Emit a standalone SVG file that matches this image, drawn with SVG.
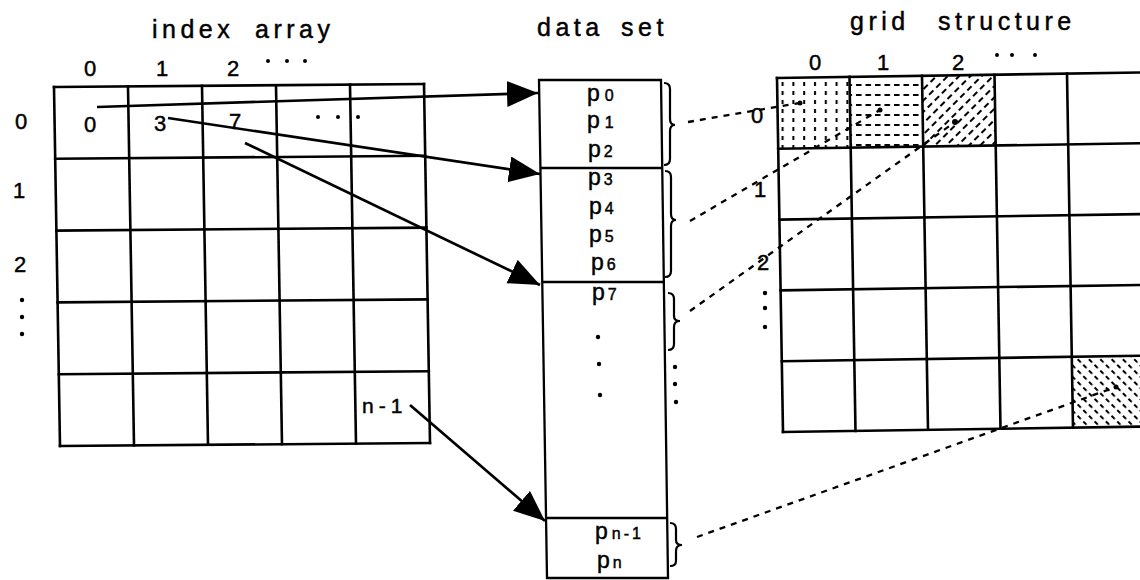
<svg xmlns="http://www.w3.org/2000/svg" width="1140" height="580" viewBox="0 0 1140 580">
<style>
text{font-family:"Liberation Sans",Arial,sans-serif;fill:#000;stroke:#000;stroke-width:0.45px}
.title{font-size:25px;letter-spacing:4.5px}
.num{font-size:22px}
.p{font-size:23px}
.sub{font-size:16px}
.g{stroke:#000;stroke-width:2.6;fill:none;stroke-linecap:square}
.box{stroke:#000;stroke-width:2.3;fill:none}
.brace{stroke:#000;stroke-width:2.2;fill:none}
.arrow{stroke:#000;stroke-width:2.7;fill:none;marker-end:url(#ah)}
.dash{stroke:#000;stroke-width:2.3;fill:none;stroke-dasharray:6 6}
.hd{stroke:#000;stroke-width:2}
</style>
<defs>
<marker id="ah" markerUnits="userSpaceOnUse" markerWidth="34" markerHeight="28" refX="31" refY="13" orient="auto">
<path d="M0,0 L31,13 L0,26 Z" fill="#000"/>
</marker>
<pattern id="pv" patternUnits="userSpaceOnUse" width="10.8" height="9">
<line class="hd" x1="5" y1="1" x2="5" y2="5"/>
</pattern>
<pattern id="ph" patternUnits="userSpaceOnUse" width="9.5" height="10">
<line class="hd" x1="1" y1="5" x2="6.5" y2="5"/>
</pattern>
<pattern id="pf" patternUnits="userSpaceOnUse" width="10" height="8" patternTransform="rotate(-45)">
<line class="hd" x1="0" y1="4" x2="6" y2="4"/>
</pattern>
<pattern id="pb" patternUnits="userSpaceOnUse" width="8" height="8" patternTransform="rotate(45)">
<line class="hd" x1="0" y1="4" x2="4.5" y2="4"/>
</pattern>
</defs>
<rect width="1140" height="580" fill="#fff"/>

<g id="index-array">
<text class="title" x="152" y="38">index<tspan x="255">array</tspan></text>
<text class="num" x="90" y="76" text-anchor="middle">0</text>
<text class="num" x="162" y="76" text-anchor="middle">1</text>
<text class="num" x="233" y="76" text-anchor="middle">2</text>
<circle cx="268" cy="61" r="2"/><circle cx="287" cy="61" r="2"/><circle cx="305" cy="61" r="2"/>
<text class="num" x="21" y="129" text-anchor="middle">0</text>
<text class="num" x="19" y="198" text-anchor="middle">1</text>
<text class="num" x="20" y="272" text-anchor="middle">2</text>
<circle cx="22" cy="300" r="2.2"/><circle cx="22" cy="317" r="2.2"/><circle cx="22" cy="334" r="2.2"/>
<line class="g" x1="54" y1="87" x2="60" y2="446"/>
<line class="g" x1="128" y1="86.4" x2="134" y2="445.4"/>
<line class="g" x1="202" y1="85.8" x2="208" y2="444.8"/>
<line class="g" x1="276" y1="85.2" x2="282" y2="444.2"/>
<line class="g" x1="350" y1="84.6" x2="356" y2="443.6"/>
<line class="g" x1="424" y1="84" x2="430" y2="443"/>
<line class="g" x1="54" y1="87" x2="424" y2="84"/>
<line class="g" x1="55.2" y1="158.8" x2="425.2" y2="155.8"/>
<line class="g" x1="56.4" y1="230.6" x2="426.4" y2="227.6"/>
<line class="g" x1="57.6" y1="302.4" x2="427.6" y2="299.4"/>
<line class="g" x1="58.8" y1="374.2" x2="428.8" y2="371.2"/>
<line class="g" x1="60" y1="446" x2="430" y2="443"/>
<text class="num" x="90" y="132" text-anchor="middle">0</text>
<text class="num" x="160" y="131" text-anchor="middle">3</text>
<text class="num" x="235" y="129" text-anchor="middle">7</text>
<circle cx="318" cy="117" r="2"/><circle cx="338" cy="117" r="2"/><circle cx="358" cy="117" r="2"/>
<text x="362" y="413" style="font-size:21px;letter-spacing:5px">n-1</text>
</g>

<g id="data-set">
<text class="title" x="537" y="36">data<tspan x="621">set</tspan></text>
<path class="box" d="M539,80 L661,80 L668,578 L547,578 Z"/>
<line class="box" x1="540" y1="168" x2="662" y2="168"/>
<line class="box" x1="542" y1="282" x2="664" y2="282"/>
<line class="box" x1="546" y1="518" x2="667" y2="518"/>
<text class="p" x="587" y="101">p<tspan class="sub" dx="5">0</tspan></text>
<text class="p" x="587" y="128">p<tspan class="sub" dx="5">1</tspan></text>
<text class="p" x="588" y="157">p<tspan class="sub" dx="3">2</tspan></text>
<text class="p" x="588" y="185">p<tspan class="sub" dx="3">3</tspan></text>
<text class="p" x="589" y="214">p<tspan class="sub" dx="3">4</tspan></text>
<text class="p" x="589" y="242">p<tspan class="sub" dx="3">5</tspan></text>
<text class="p" x="591" y="270">p<tspan class="sub" dx="3">6</tspan></text>
<text class="p" x="592" y="300">p<tspan class="sub" dx="3">7</tspan></text>
<circle cx="598" cy="337" r="2.2"/><circle cx="599" cy="364" r="2.2"/><circle cx="600" cy="395" r="2.2"/>
<text class="p" x="595" y="539">p<tspan class="sub" dx="4" style="letter-spacing:3px">n-1</tspan></text>
<text class="p" x="597" y="568">p<tspan class="sub" dx="3">n</tspan></text>
<path class="brace" d="M664,83 Q670,83 670,89 L670,119 Q670,125 675,125 Q670,125 670,131 L670,159 Q670,165 664,165"/>
<path class="brace" d="M665,171 Q671,171 671,177 L671,214 Q671,220 676,220 Q671,220 671,226 L671,271 Q671,277 665,277"/>
<path class="brace" d="M668,293 Q674,293 674,299 L674,316 Q674,321 680,321 Q674,321 674,327 L674,344 Q674,350 668,350"/>
<path class="brace" d="M670,523 Q676,523 676,529 L676,540 Q676,545 682,545 Q676,545 676,551 L676,561 Q676,566 670,566"/>
<circle cx="675" cy="367" r="2.2"/><circle cx="675" cy="384" r="2.2"/><circle cx="676" cy="402" r="2.2"/>
</g>

<g id="grid-structure">
<text class="title" x="850" y="30">grid<tspan x="938">structure</tspan></text>
<text class="num" x="815" y="70" text-anchor="middle">0</text>
<text class="num" x="883" y="70" text-anchor="middle">1</text>
<text class="num" x="958" y="70" text-anchor="middle">2</text>
<circle cx="997" cy="55" r="2"/><circle cx="1012" cy="55" r="2"/><circle cx="1035" cy="55" r="2"/>
<text class="num" x="757" y="123" text-anchor="middle">0</text>
<text class="num" x="760" y="197" text-anchor="middle">1</text>
<text class="num" x="763" y="270" text-anchor="middle">2</text>
<circle cx="765" cy="293" r="2.2"/><circle cx="765" cy="308" r="2.2"/><circle cx="765" cy="327" r="2.2"/>
<polygon points="777,78 849.5,76.9 850.7,147.7 778.2,148.8" fill="url(#pv)"/>
<polygon points="849.5,76.9 922,75.8 923.2,146.6 850.7,147.7" fill="url(#ph)"/>
<polygon points="922,75.8 994.5,74.7 995.7,145.5 923.2,146.6" fill="url(#pf)"/>
<polygon points="1071.8,356.8 1151.6,355.6 1152.8,426.4 1073,427.6" fill="url(#pb)"/>
<line class="g" x1="777" y1="78" x2="783" y2="432"/>
<line class="g" x1="849.5" y1="76.9" x2="855.5" y2="430.9"/>
<line class="g" x1="922" y1="75.8" x2="928" y2="429.8"/>
<line class="g" x1="994.5" y1="74.7" x2="1000.5" y2="428.7"/>
<line class="g" x1="1067" y1="73.6" x2="1073" y2="427.6"/>
<line class="g" x1="777" y1="78" x2="1146.8" y2="72.4"/>
<line class="g" x1="778.2" y1="148.8" x2="1148" y2="143.2"/>
<line class="g" x1="779.4" y1="219.6" x2="1149.2" y2="214"/>
<line class="g" x1="780.6" y1="290.4" x2="1150.4" y2="284.8"/>
<line class="g" x1="781.8" y1="361.2" x2="1151.6" y2="355.6"/>
<line class="g" x1="783" y1="432" x2="1152.8" y2="426.4"/>
</g>

<g id="connectors">
<line class="arrow" x1="97" y1="107" x2="538" y2="93"/>
<line class="arrow" x1="168" y1="118" x2="540" y2="174"/>
<line class="arrow" x1="245" y1="143" x2="540" y2="285"/>
<line class="arrow" x1="410" y1="405" x2="545" y2="521"/>
<line class="dash" x1="688" y1="122" x2="800" y2="103"/>
<circle cx="800" cy="103" r="2.5"/>
<line class="dash" x1="690" y1="221" x2="880" y2="110"/>
<circle cx="880" cy="110" r="2.5"/>
<line class="dash" x1="690" y1="311" x2="955" y2="122"/>
<circle cx="955" cy="122" r="3"/>
<line class="dash" x1="697" y1="537" x2="1116" y2="387"/>
<circle cx="1116" cy="387" r="2.5"/>
</g>
</svg>
